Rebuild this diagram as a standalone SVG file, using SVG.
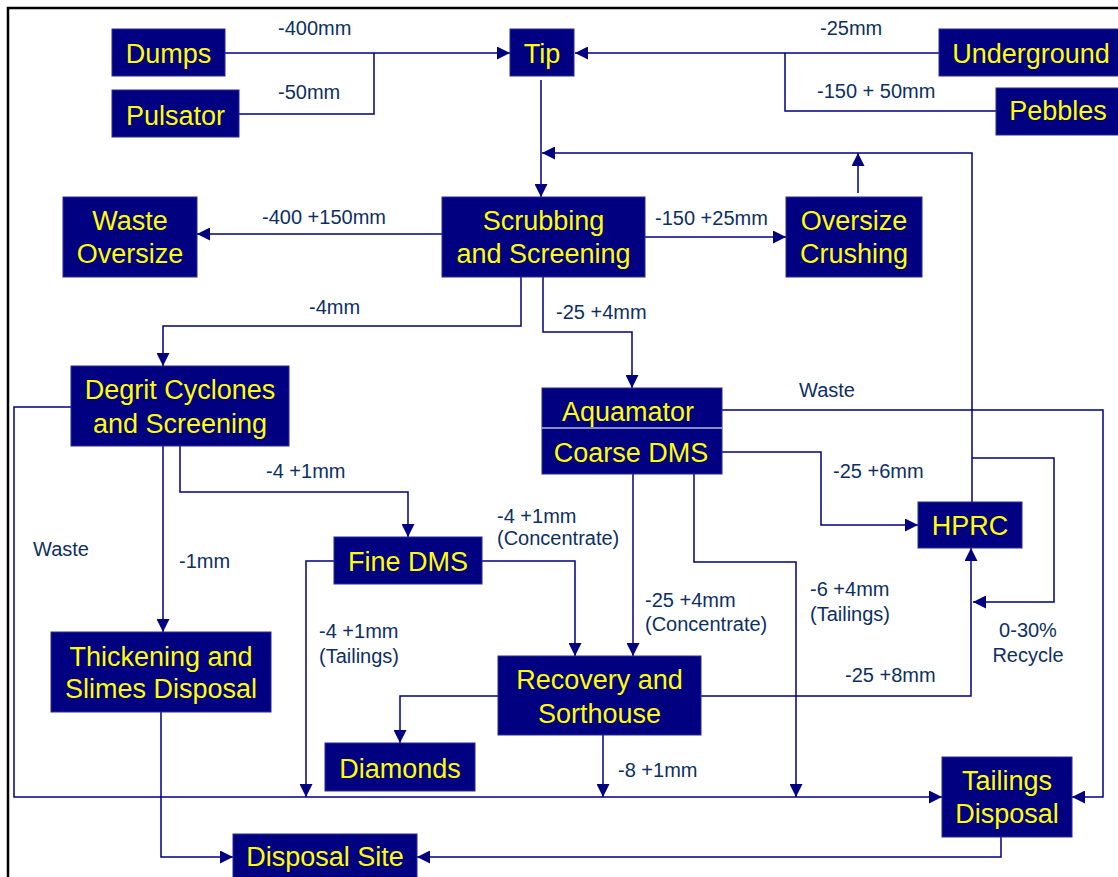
<svg xmlns="http://www.w3.org/2000/svg" width="1118" height="877" viewBox="0 0 1118 877">
<defs>
<style>
.box{fill:#000080;stroke:#2b2b98;stroke-width:1}
.nt{font-family:"Liberation Sans",Arial,sans-serif;font-size:27px;fill:#FFFF00;text-anchor:middle}
.lb{font-family:"Liberation Sans",Arial,sans-serif;font-size:20px;fill:#0d2f63}
.c{fill:none;stroke:#000080;stroke-width:1.5}
</style>
<marker id="ah" markerWidth="13" markerHeight="13" refX="13" refY="6.5" orient="auto" markerUnits="userSpaceOnUse">
<path d="M0,0 L13,6.5 L0,13 z" fill="#000080"/>
</marker>
</defs>
<rect x="0" y="0" width="1118" height="877" fill="#ffffff"/>
<rect x="8" y="8" width="1125" height="885" fill="none" stroke="#000000" stroke-width="2.5"/>

<g id="connectors">
<path class="c" d="M225,53 H510" marker-end="url(#ah)"/>
<path class="c" d="M239,114 H374 V53"/>
<path class="c" d="M939,53 H575" marker-end="url(#ah)"/>
<path class="c" d="M996,111 H785 V53"/>
<path class="c" d="M541,80 V197" marker-end="url(#ah)"/>
<path class="c" d="M442,234 H197" marker-end="url(#ah)"/>
<path class="c" d="M645,237 H786" marker-end="url(#ah)"/>
<path class="c" d="M858,193 V153" marker-end="url(#ah)"/>
<path class="c" d="M972,502 V153 H542" marker-end="url(#ah)"/>
<path class="c" d="M521,277 V326 H163 V366" marker-end="url(#ah)"/>
<path class="c" d="M543,277 V332 H632 V388" marker-end="url(#ah)"/>
<path class="c" d="M71,407 H14 V797 H942" marker-end="url(#ah)"/>
<path class="c" d="M163,446 V632" marker-end="url(#ah)"/>
<path class="c" d="M180,446 V492 H408 V537" marker-end="url(#ah)"/>
<path class="c" d="M334,561 H306 V797" marker-end="url(#ah)"/>
<path class="c" d="M482,561 H575 V656" marker-end="url(#ah)"/>
<path class="c" d="M633,474 V656" marker-end="url(#ah)"/>
<path class="c" d="M694,474 V562 H796 V797" marker-end="url(#ah)"/>
<path class="c" d="M722,452 H821 V525 H918" marker-end="url(#ah)"/>
<path class="c" d="M722,410 H1103 V797 H1072" marker-end="url(#ah)"/>
<path class="c" d="M972,458 H1054 V602 H973" marker-end="url(#ah)"/>
<path class="c" d="M701,696 H971 V548" marker-end="url(#ah)"/>
<path class="c" d="M498,696 H400 V743" marker-end="url(#ah)"/>
<path class="c" d="M603,735 V797" marker-end="url(#ah)"/>
<path class="c" d="M161,712 V857 H233" marker-end="url(#ah)"/>
<path class="c" d="M1001,837 V857 H417" marker-end="url(#ah)"/>
</g>

<g id="labels">
<text class="lb" x="278" y="35">-400mm</text>
<text class="lb" x="278" y="99">-50mm</text>
<text class="lb" x="820" y="35">-25mm</text>
<text class="lb" x="817" y="98">-150 + 50mm</text>
<text class="lb" x="262" y="224">-400 +150mm</text>
<text class="lb" x="655" y="225">-150 +25mm</text>
<text class="lb" x="309" y="314">-4mm</text>
<text class="lb" x="556" y="319">-25 +4mm</text>
<text class="lb" x="799" y="397">Waste</text>
<text class="lb" x="266" y="478">-4 +1mm</text>
<text class="lb" x="833" y="478">-25 +6mm</text>
<text class="lb" x="497" y="523">-4 +1mm</text>
<text class="lb" x="497" y="545">(Concentrate)</text>
<text class="lb" x="33" y="556">Waste</text>
<text class="lb" x="179" y="568">-1mm</text>
<text class="lb" x="810" y="596">-6 +4mm</text>
<text class="lb" x="810" y="621">(Tailings)</text>
<text class="lb" x="645" y="607">-25 +4mm</text>
<text class="lb" x="645" y="631">(Concentrate)</text>
<text class="lb" x="319" y="638">-4 +1mm</text>
<text class="lb" x="319" y="663">(Tailings)</text>
<text class="lb" x="1028" y="637" text-anchor="middle">0-30%</text>
<text class="lb" x="1028" y="662" text-anchor="middle">Recycle</text>
<text class="lb" x="845" y="682">-25 +8mm</text>
<text class="lb" x="618" y="777">-8 +1mm</text>
</g>

<g id="dumps"><rect class="box" x="112" y="29" width="113" height="47"/><text class="nt" x="168.5" y="63">Dumps</text></g>
<g id="pulsator"><rect class="box" x="112" y="90" width="127" height="47"/><text class="nt" x="175.5" y="125">Pulsator</text></g>
<g id="tip"><rect class="box" x="510" y="29" width="64" height="47"/><text class="nt" x="542" y="63">Tip</text></g>
<g id="underground"><rect class="box" x="939" y="29" width="182" height="47"/><text class="nt" x="1031" y="63">Underground</text></g>
<g id="pebbles"><rect class="box" x="996" y="88" width="125" height="47"/><text class="nt" x="1058" y="120">Pebbles</text></g>
<g id="waste-oversize"><rect class="box" x="63" y="197" width="134" height="80"/><text class="nt" x="130" y="230">Waste</text><text class="nt" x="130" y="263">Oversize</text></g>
<g id="scrubbing"><rect class="box" x="442" y="197" width="203" height="80"/><text class="nt" x="543.5" y="230">Scrubbing</text><text class="nt" x="543.5" y="263">and Screening</text></g>
<g id="oversize-crushing"><rect class="box" x="786" y="197" width="136" height="80"/><text class="nt" x="854" y="230">Oversize</text><text class="nt" x="854" y="263">Crushing</text></g>
<g id="degrit"><rect class="box" x="71" y="366" width="218" height="80"/><text class="nt" x="180" y="399">Degrit Cyclones</text><text class="nt" x="180" y="433">and Screening</text></g>
<g id="aquamator"><rect class="box" x="542" y="388" width="180" height="86"/><line x1="542" y1="428" x2="722" y2="428" stroke="#b8b8d8" stroke-width="1.5"/><text class="nt" x="628" y="421">Aquamator</text><text class="nt" x="631" y="462">Coarse DMS</text></g>
<g id="hprc"><rect class="box" x="918" y="502" width="104" height="46"/><text class="nt" x="970" y="535">HPRC</text></g>
<g id="fine-dms"><rect class="box" x="334" y="537" width="148" height="47"/><text class="nt" x="408" y="571">Fine DMS</text></g>
<g id="thickening"><rect class="box" x="51" y="632" width="220" height="80"/><text class="nt" x="161" y="666">Thickening and</text><text class="nt" x="161" y="698">Slimes Disposal</text></g>
<g id="recovery"><rect class="box" x="498" y="656" width="203" height="79"/><text class="nt" x="599.5" y="689">Recovery and</text><text class="nt" x="599.5" y="723">Sorthouse</text></g>
<g id="diamonds"><rect class="box" x="325" y="743" width="150" height="48"/><text class="nt" x="400" y="778">Diamonds</text></g>
<g id="tailings"><rect class="box" x="942" y="757" width="130" height="80"/><text class="nt" x="1007" y="790">Tailings</text><text class="nt" x="1007" y="823">Disposal</text></g>
<g id="disposal-site"><rect class="box" x="233" y="834" width="184" height="50"/><text class="nt" x="325" y="866">Disposal Site</text></g>
</svg>
